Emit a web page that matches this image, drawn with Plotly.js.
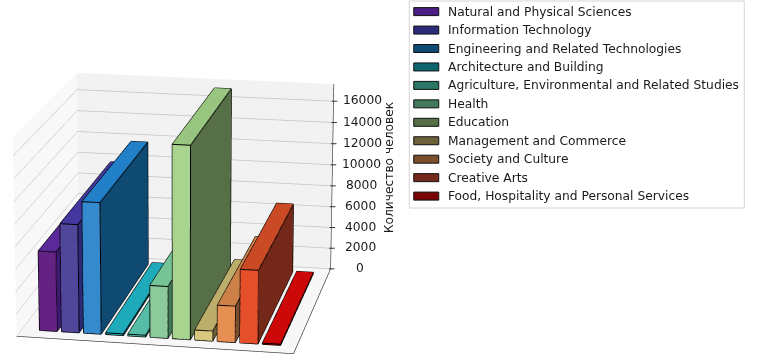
<!DOCTYPE html>
<html><head><meta charset="utf-8">
<script src="https://cdn.plot.ly/plotly-3.0.1.min.js"></script>
<style>html,body{margin:0;padding:0;background:#fff;width:770px;height:363px;overflow:hidden;position:relative}#c{position:absolute}</style></head>
<body><div id="c"></div>
<script>
const categories = ["Natural and Physical Sciences","Information Technology","Engineering and Related Technologies","Architecture and Building","Agriculture, Environmental and Related Studies","Health","Education","Management and Commerce","Society and Culture","Creative Arts","Food, Hospitality and Personal Services"];
const students = [7150,9700,11750,150,150,4650,17150,900,3250,6550,100];
const frontColors = ["#642383","#50469a","#358ace","#1eaab9","#55bda6","#8cca9c","#a8d48f","#d7c67d","#e58f52","#e5502a","#cc0808"];
const topColors = ["#5b2a9a","#4238a0","#2180c8","#1eaab9","#55bda6","#74c495","#98c680","#bcae6a","#cd8148","#c94a24","#cc0808"];
const sideColors = ["#3f1a72","#2b2b7a","#0f4a73","#0c646d","#2a7766","#417a58","#576f47","#6c6239","#7b4e2c","#74281a","#780404"];
const legendColors = ["#4b1f85","#2b2b7a","#0f4a73","#0c646d","#2a7766","#417a58","#576f47","#6c6239","#7b4e2c","#74281a","#780404"];
const zTicks = [0,2000,4000,6000,8000,10000,12000,14000,16000];

const W=2000,H=2115,ox=820.25,oy=851;
const el=document.getElementById('c');el.style.left=(-ox)+'px';el.style.top=(-oy)+'px';el.style.width=W+'px';el.style.height=H+'px';
const px=v=>(v+ox)/W, py=v=>1-(v+oy)/H;

const xR=[-1.2,11.12], yR=[0,1], zR=[0,17600];
const bw=0.4, y0=0.08, y1=0.93;
const traces=[];
const ex=[],ey=[],ez=[];
categories.forEach((name,i)=>{
  const v=students[i],a=i-bw,b=i+bw;
  const X=[a,b,b,a,a,b,b,a],Y=[y0,y0,y1,y1,y0,y0,y1,y1],Z=[0,0,0,0,v,v,v,v];
  const tri=[[0,1,5],[0,5,4],[1,2,6],[1,6,5],[4,5,6],[4,6,7],[3,0,4],[3,4,7],[2,3,7],[2,7,6],[0,1,2],[0,2,3]];
  const col=[frontColors[i],frontColors[i],sideColors[i],sideColors[i],topColors[i],topColors[i],sideColors[i],sideColors[i],sideColors[i],sideColors[i],sideColors[i],sideColors[i]];
  traces.push({type:'mesh3d',name,x:X,y:Y,z:Z,i:tri.map(t=>t[0]),j:tri.map(t=>t[1]),k:tri.map(t=>t[2]),
    facecolor:col,flatshading:true,lighting:{ambient:1,diffuse:0,specular:0,roughness:1,fresnel:0},hoverinfo:'skip',showscale:false});
  [[0,1],[1,2],[2,3],[3,0],[4,5],[5,6],[6,7],[7,4],[0,4],[1,5],[2,6],[3,7]].forEach(e=>{
    ex.push(X[e[0]],X[e[1]],null);ey.push(Y[e[0]],Y[e[1]],null);ez.push(Z[e[0]],Z[e[1]],null);
  });
});
traces.push({type:'scatter3d',mode:'lines',x:ex,y:ey,z:ez,line:{color:'#000',width:2},hoverinfo:'skip',showlegend:false});
const inX=xR[1]-0.01,inY=yR[1]-0.001;
traces.push({type:'scatter3d',mode:'lines',x:[xR[0],inX,inX,inX],y:[yR[0]+0.001,yR[0]+0.001,inY,inY],z:[1,1,1,zR[1]],line:{color:'#333',width:1.3},hoverinfo:'skip',showlegend:false});

const font={family:'DejaVu Sans',size:12.25,color:'#1a1a1a'};
const sceneAnn=[];
zTicks.forEach(t=>{
  sceneAnn.push({x:xR[1],y:yR[1],z:t,text:String(t),showarrow:false,xanchor:'center',yanchor:'middle',xshift:29,yshift:1,font});
  sceneAnn.push({x:xR[1],y:yR[1],z:t,text:'',showarrow:true,ax:7,ay:0,arrowhead:0,arrowwidth:1,arrowcolor:'#333',xshift:-2});
});
const ax=(extra)=>Object.assign({showticklabels:false,showspikes:false,zeroline:false,showline:false,ticks:'',title:{text:''}},extra);
const layout={width:W,height:H,margin:{l:0,r:0,t:0,b:0},paper_bgcolor:'rgba(0,0,0,0)',showlegend:false,
 scene:{domain:{x:[0,1],y:[0,1]},aspectmode:'manual',aspectratio:{x:1,y:1,z:0.735},
  camera:{projection:{type:'perspective'},eye:{x:1.68,y:-8.87,z:2.63},center:{x:0,y:0,z:0},up:{x:0,y:0,z:1}},
  xaxis:ax({range:xR,showgrid:false,showbackground:true,backgroundcolor:'#f8f8f8'}),
  yaxis:ax({range:yR,showgrid:false,showbackground:true,backgroundcolor:'#f2f2f2'}),
  zaxis:ax({range:zR,tickvals:zTicks,showgrid:true,gridcolor:'#c4c4c4',gridwidth:1.5,showbackground:true,backgroundcolor:'#f7f7f7'}),
  annotations:sceneAnn},
 shapes:[{type:'rect',xref:'paper',yref:'paper',x0:px(409),x1:px(744),y0:py(208),y1:py(1),line:{color:'#d4d4d4',width:1},fillcolor:'#fff'}],
 annotations:[{xref:'paper',yref:'paper',x:px(389),y:py(167),text:'Количество человек',textangle:-90,showarrow:false,font,xanchor:'center',yanchor:'middle'}]
};
const rowStep=18.45,rowTop=11.6;
categories.forEach((name,i)=>{
  const yc=rowTop+i*rowStep;
  layout.shapes.push({type:'rect',xref:'paper',yref:'paper',x0:px(413.5),x1:px(438.5),y0:py(yc+4),y1:py(yc-4),fillcolor:legendColors[i],line:{color:'#111',width:1}});
  layout.annotations.push({xref:'paper',yref:'paper',x:px(445.5),y:py(yc),text:name,showarrow:false,xanchor:'left',yanchor:'middle',font});
});
Plotly.newPlot('c',traces,layout,{displayModeBar:false});
</script></body></html>
